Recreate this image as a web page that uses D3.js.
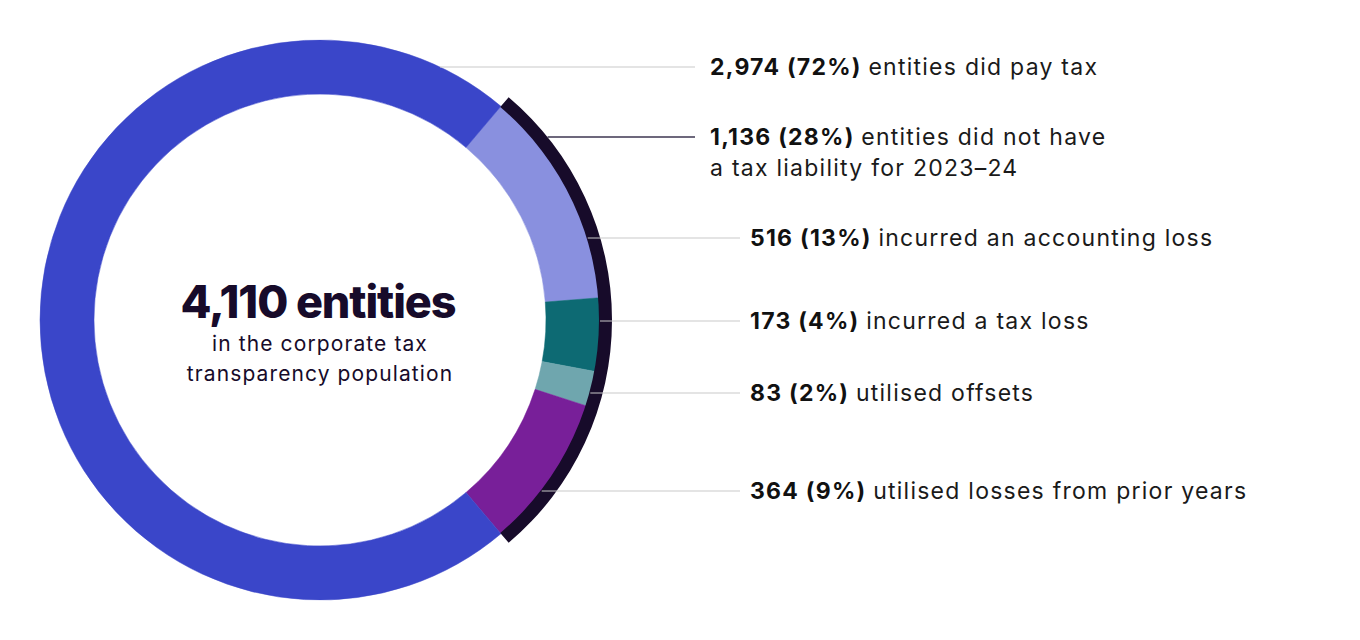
<!DOCTYPE html>
<html>
<head>
<meta charset="utf-8">
<script src="https://cdn.jsdelivr.net/npm/d3@7"></script>
<style>
  body { margin: 0; background: #fff; }
  text { font-family: Inter, "Noto Sans", sans-serif; }
</style>
</head>
<body>
<div id="container"></div>
<script>
/* DATA */
const total = 4110
const segments = ["accounting loss", "tax loss", "offsets", "prior losses", "paid tax"]
const counts = [516, 173, 83, 364, 2974]
const noTaxCount = 1136

const labelBold = ["2,974 (72%)", "1,136 (28%)", "516 (13%)", "173 (4%)", "83 (2%)", "364 (9%)"]
const labelRest = [
  ["entities did pay tax"],
  ["entities did not have", "a tax liability for 2023\u201324"],
  ["incurred an accounting loss"],
  ["incurred a tax loss"],
  ["utilised offsets"],
  ["utilised losses from prior years"]
]

/* CONSTANTS AND GLOBALS */
const width = 1360
const height = 640
const cx = 320, cy = 320
const outerR = 280, innerR = 226
const colors = ["#8990df", "#0d6a73", "#6fa6ae", "#781f99", "#3a46c9"]
// label layout: y of leader line, where the line stops, where text begins
const labelY = [67, 137, 238, 321, 393, 491]
const lineEnd = [695, 695, 740, 740, 740, 740]
const textX = [710, 710, 750, 750, 750, 750]

const svg = d3.select("#container")
  .append("svg")
  .attr("width", width)
  .attr("height", height)

const g = svg.append("g").attr("transform", `translate(${cx},${cy})`)

// no-tax group centred on the right side of the ring
const noTaxAngle = noTaxCount / total * 2 * Math.PI
const start = Math.PI / 2 - noTaxAngle / 2

const pie = d3.pie().sort(null).value(d => d)
  .startAngle(start).endAngle(start + 2 * Math.PI)
const arc = d3.arc().innerRadius(innerR).outerRadius(outerR)

g.selectAll("path.slice")
  .data(pie(counts))
  .join("path")
  .attr("class", "slice")
  .attr("d", arc)
  .attr("fill", (d, i) => colors[i])
  .attr("stroke", (d, i) => colors[i])
  .attr("stroke-width", 0.5)

// dark bracket arc around the no-tax entities
g.append("path")
  .attr("d", d3.arc()({innerRadius: outerR - 1, outerRadius: outerR + 12, startAngle: start, endAngle: start + noTaxAngle}))
  .attr("fill", "#170b2a")

// centre text
const centre = g.append("text").attr("text-anchor", "middle").attr("fill", "#170b2a")
centre.append("tspan").attr("x", -2).attr("y", -2)
  .attr("font-size", 45).attr("font-weight", 800).attr("letter-spacing", -1.1)
  .text(total.toLocaleString("en-US") + " entities")
centre.append("tspan").attr("x", 0).attr("y", 31)
  .attr("font-size", 21).attr("font-weight", 400).attr("letter-spacing", 1.1)
  .text("in the corporate tax")
centre.append("tspan").attr("x", 0).attr("y", 61)
  .attr("font-size", 21).attr("font-weight", 400).attr("letter-spacing", 1.1)
  .text("transparency population")

// leader lines
labelY.forEach((y, i) => {
  const r = i === 1 ? outerR + 12 : outerR
  const dy = y - cy
  const x0 = cx + Math.sqrt(r * r - dy * dy)
  svg.append("line")
    .attr("x1", x0).attr("x2", lineEnd[i])
    .attr("y1", y).attr("y2", y)
    .attr("stroke", i === 1 ? "#3d3650" : "#c9c9c9")
    .attr("stroke-width", i === 1 ? 1.5 : 1)
})

// labels
labelY.forEach((y, i) => {
  const t = svg.append("text")
    .attr("x", textX[i]).attr("y", y + 8)
    .attr("font-size", 23).attr("fill", "#1a1a1a")
    .attr("letter-spacing", 1.25)
  t.append("tspan").attr("font-weight", 700).attr("fill", "#111").text(labelBold[i] + " ")
  t.append("tspan").text(labelRest[i][0])
  labelRest[i].slice(1).forEach(line => {
    t.append("tspan").attr("x", textX[i]).attr("dy", 31).text(line)
  })
})
</script>
</body>
</html>
